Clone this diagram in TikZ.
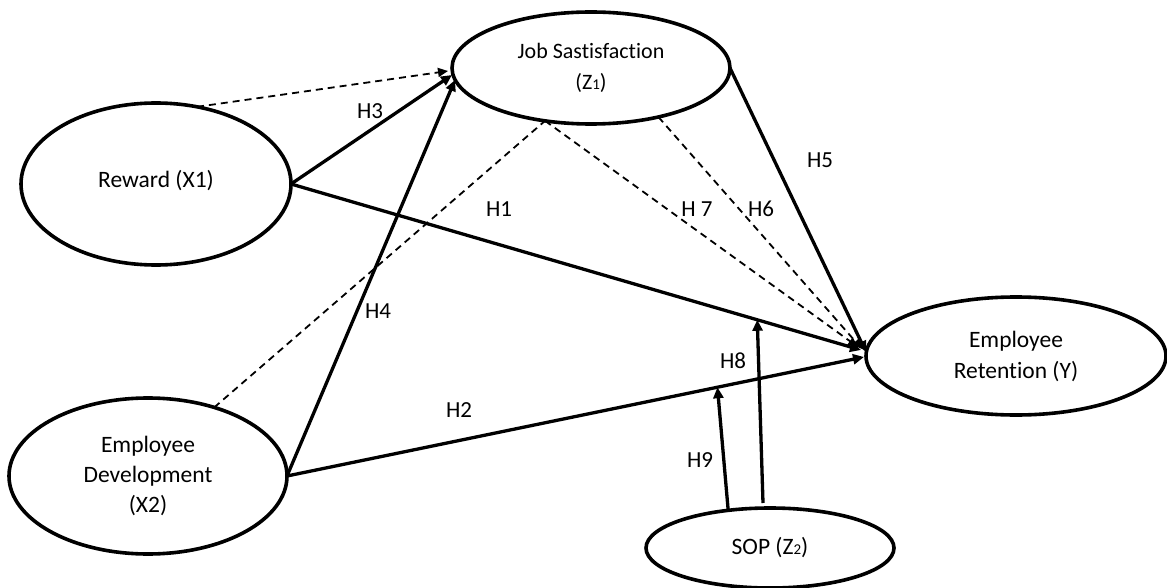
\documentclass[tikz,border=0pt]{standalone}
\usepackage{fontspec}
\setmainfont{Carlito}[Ligatures=NoCommon]
\usetikzlibrary{shapes.geometric,arrows.meta,calc}
\begin{document}
\begin{tikzpicture}[x=1pt,y=-1pt,
  var/.style={ellipse,draw,line width=3.6pt,inner sep=0pt,outer sep=0pt,align=center,font=\fontsize{23.5}{31}\selectfont},
  solidarrow/.style={line width=3.3pt,-{Triangle[length=11pt,width=10pt]}},
  dasharrow/.style={line width=1.8pt,dash pattern=on 7pt off 5pt,-{Triangle[length=10pt,width=9pt]}},
  dashline/.style={line width=1.8pt,dash pattern=on 7pt off 5pt},
  hlab/.style={font=\fontsize{23}{23}\selectfont,inner sep=0pt}]
\useasboundingbox (0,0) rectangle (1167,588);
\newcommand{\smallsub}[1]{{\fontsize{15}{15}\selectfont #1}}
% constructs
\node[var,minimum width=270pt,minimum height=162pt] (rew) at (156,184) {\raisebox{10pt}{Reward (X1)}};
\node[var,minimum width=278pt,minimum height=112pt,font=\fontsize{22}{31}\selectfont] (js) at (591,68) {Job Sastisfaction\\(Z\smallsub{1})};
\node[var,minimum width=300pt,minimum height=118pt] (ret) at (1016,356) {Employee\\Retention (Y)};
\node[var,minimum width=278pt,minimum height=156pt,font=\fontsize{23.5}{30}\selectfont] (dev) at (148,476) {Employee\\Development\\(X2)};
\node[var,minimum width=248pt,minimum height=80pt] (sop) at (770,548) {SOP (Z\smallsub{2})};
% end points
\coordinate (jsa) at ($(js.west)+(-4,3)$);
\coordinate (jsb) at ($(js.west)+(0,7)$);
\coordinate (jsc) at ($(js.west)+(3,12)$);
\coordinate (reta) at ($(ret.west)+(-5,-6)$);
\coordinate (retb) at ($(ret.west)+(-2,1)$);
\coordinate (retc) at ($(ret.west)+(-8,-9)$);
\coordinate (retd) at ($(ret.west)+(-4,-7)$);
\coordinate (rete) at ($(ret.west)+(0,-4)$);
\coordinate (h8end) at ($(rew.east)!0.818!(reta)$);
\coordinate (h9end) at ($(dev.east)!0.746!(retb)$);
\coordinate (h8start) at ($(sop.north)+(-7,-5)$);
% connectors
\draw[dasharrow] (rew.62) -- (jsa);
\draw[solidarrow] (rew.east) -- (jsb);
\draw[solidarrow] (dev.east) -- (jsc);
\draw[solidarrow] (rew.east) -- (reta);
\draw[solidarrow] (dev.east) -- (retb);
\draw[dashline] (dev.46) -- (js.229);
\draw[dasharrow] (js.229) -- (retc);
\draw[dasharrow] (js.324) -- (retd);
\draw[solidarrow] (js.east) -- (rete);
\draw[solidarrow] (h8start) -- (h8end);
\draw[solidarrow] (sop.138) -- (h9end);
% labels
\node[hlab] (l3) at (370,111) {H3};
\node[hlab] (l1) at (499,209) {H1};
\node[hlab] (l5) at (820,160) {H5};
\node[hlab] (l7) at (697,209) {H 7};
\node[hlab] (l6) at (761,209) {H6};
\node[hlab] (l4) at (378,311) {H4};
\node[hlab] (l2) at (459,410) {H2};
\node[hlab] (l8) at (733,361) {H8};
\node[hlab] (l9) at (700,460) {H9};
\end{tikzpicture}
\end{document}
